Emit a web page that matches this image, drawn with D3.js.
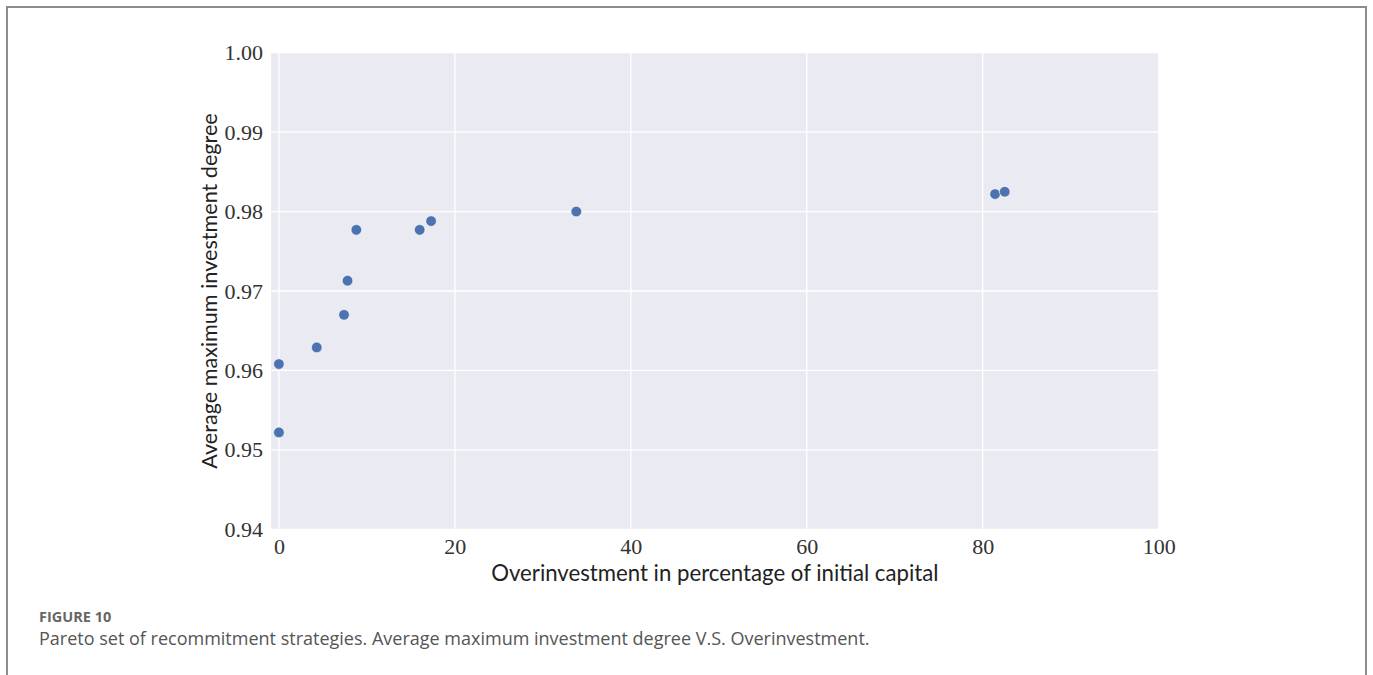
<!DOCTYPE html>
<html>
<head>
<meta charset="utf-8">
<script src="https://cdn.jsdelivr.net/npm/d3@7"></script>
<style>
  html, body { margin: 0; padding: 0; background: #fff; }
  svg { display: block; }
</style>
</head>
<body>
<svg id="chart" width="1373" height="675"></svg>
<script>
// Pareto set: overinvestment (% of initial capital) vs. average maximum investment degree
const overinvestment = [0.0, 0.0, 4.3, 7.4, 7.8, 8.8, 16.0, 17.3, 33.8, 81.4, 82.5];
const investmentDegree = [0.9522, 0.9608, 0.9629, 0.9670, 0.9713, 0.9777, 0.9777, 0.9788, 0.9800, 0.9822, 0.9825];
const xTicks = [0, 20, 40, 60, 80, 100];
const yTicks = [0.94, 0.95, 0.96, 0.97, 0.98, 0.99, 1.00];

const xLabel = "Overinvestment in percentage of initial capital";
const yLabel = "Average maximum investment degree";
const figureTag = "FIGURE 10";
const caption = "Pareto set of recommitment strategies. Average maximum investment degree V.S. Overinvestment.";

const svg = d3.select("#chart");

// outer frame
svg.append("rect")
  .attr("x", 7).attr("y", 7)
  .attr("width", 1359).attr("height", 700)
  .attr("fill", "none")
  .attr("stroke", "#8c8c8c")
  .attr("stroke-width", 2);

const plot = { left: 271, right: 1158.7, top: 52.7, bottom: 529.3 };

const x = d3.scaleLinear().domain([-0.9, 100]).range([plot.left, plot.right]);
const y = d3.scaleLinear().domain([0.94, 1.00]).range([plot.bottom, plot.top]);

// panel background
svg.append("rect")
  .attr("x", plot.left).attr("y", plot.top)
  .attr("width", plot.right - plot.left)
  .attr("height", plot.bottom - plot.top)
  .attr("fill", "#eaeaf2");

// grid
const grid = svg.append("g").attr("stroke", "#ffffff").attr("stroke-width", 1.3);
grid.selectAll("line.gx").data(xTicks.filter(t => x(t) <= plot.right)).join("line")
  .attr("class", "gx")
  .attr("x1", d => x(d)).attr("x2", d => x(d))
  .attr("y1", plot.top).attr("y2", plot.bottom);
grid.selectAll("line.gy").data(yTicks).join("line")
  .attr("class", "gy")
  .attr("x1", plot.left).attr("x2", plot.right)
  .attr("y1", d => y(d)).attr("y2", d => y(d));

// axes (labels only, no domain line or tick marks)
const xAxis = d3.axisBottom(x).tickValues(xTicks).tickSize(0).tickPadding(10).tickFormat(d3.format("d"));
const yAxis = d3.axisLeft(y).tickValues(yTicks).tickSize(0).tickPadding(8).tickFormat(d3.format(".2f"));

const gx = svg.append("g").attr("transform", `translate(0,${plot.bottom})`).call(xAxis);
const gy = svg.append("g").attr("transform", `translate(${plot.left},0)`).call(yAxis);
[gx, gy].forEach(g => {
  g.select(".domain").remove();
  g.selectAll("text")
    .attr("font-family", "'Liberation Serif', 'Times New Roman', serif")
    .attr("font-size", 22)
    .attr("fill", "#333");
});
gx.selectAll("text").attr("dy", "0.68em");

// axis titles
svg.append("text")
  .attr("x", (plot.left + plot.right) / 2)
  .attr("y", 581)
  .attr("text-anchor", "middle")
  .attr("font-family", "Lato, 'Open Sans', sans-serif")
  .attr("font-size", 22.2)
  .attr("fill", "#222")
  .text(xLabel);

svg.append("text")
  .attr("transform", `translate(217,${(plot.top + plot.bottom) / 2}) rotate(-90)`)
  .attr("text-anchor", "middle")
  .attr("font-family", "Lato, 'Open Sans', sans-serif")
  .attr("font-size", 21.6)
  .attr("fill", "#222")
  .text(yLabel);

// points
svg.append("g").selectAll("circle")
  .data(overinvestment.map((v, i) => ({ x: v, y: investmentDegree[i] })))
  .join("circle")
  .attr("cx", d => x(d.x))
  .attr("cy", d => y(d.y))
  .attr("r", 5.3)
  .attr("fill", "#4c72b0")
  .attr("stroke", "#ffffff")
  .attr("stroke-width", 0.6);

// caption
svg.append("text")
  .attr("x", 39).attr("y", 622)
  .attr("font-family", "'Open Sans', sans-serif")
  .attr("font-weight", "bold")
  .attr("font-size", 14.5)
  .attr("fill", "#666")
  .text(figureTag);

svg.append("text")
  .attr("x", 39).attr("y", 645)
  .attr("font-family", "'Open Sans', sans-serif")
  .attr("font-size", 18)
  .attr("fill", "#555")
  .text(caption);
</script>
</body>
</html>
